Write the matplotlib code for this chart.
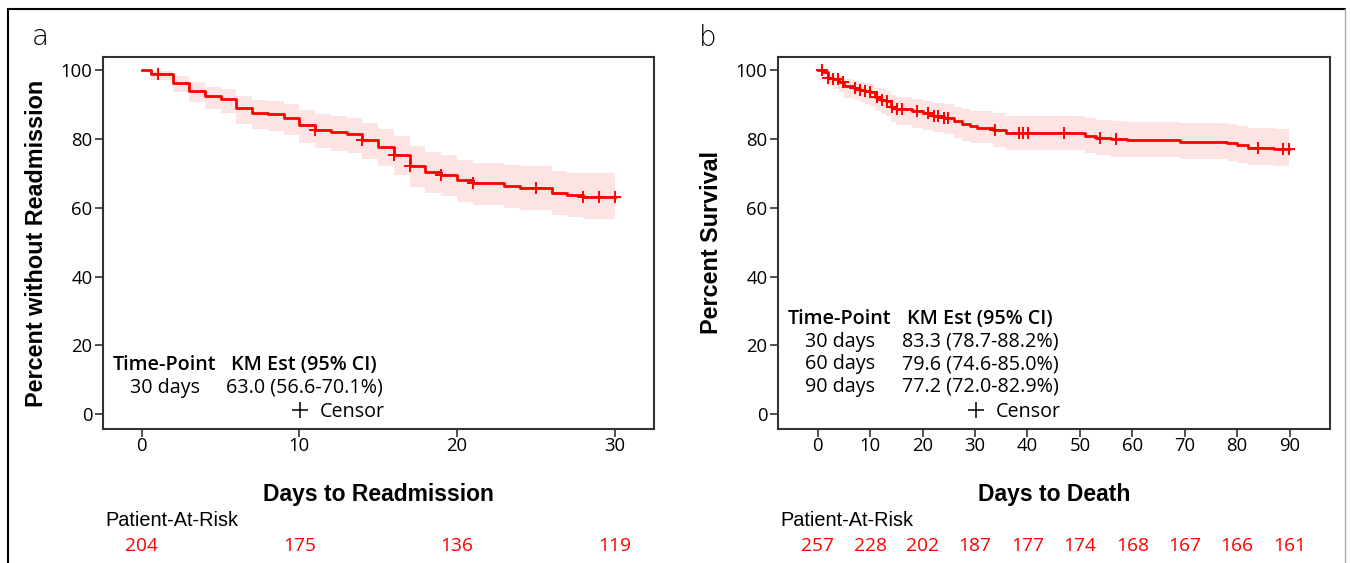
import numpy as np
import matplotlib
matplotlib.use('Agg')
import matplotlib.pyplot as plt
from matplotlib.lines import Line2D
import matplotlib.transforms as mtrans


####
# Data
#===
# panel a : readmission
times_a = [0, 0.6, 2, 3, 4, 5, 6, 7, 8, 9, 10, 11, 12, 13, 14, 15, 16, 17, 18, 19, 20, 21, 23, 24, 26, 27, 28]
surv_a = [100, 98.8, 96.3, 94.0, 92.4, 91.5, 88.9, 87.6, 87.1, 86.0, 84.0, 82.6, 82.0, 81.4, 79.7, 77.7, 75.3,
          72.1, 70.5, 69.5, 68.0, 67.1, 66.3, 65.8, 64.4, 63.7, 63.0]
low_a = [100, 97.0, 93.5, 90.6, 88.6, 87.5, 84.4, 82.9, 82.3, 81.1, 78.9, 77.3, 76.6, 75.9, 74.1, 72.0, 69.5,
         66.1, 64.4, 63.3, 61.8, 60.8, 60.0, 59.4, 57.9, 57.2, 56.6]
up_a = [100, 99.8, 98.3, 96.4, 95.2, 94.5, 92.4, 91.3, 90.9, 90.0, 88.4, 87.2, 86.7, 86.2, 84.6, 82.8, 80.7,
        77.8, 76.3, 75.3, 73.9, 73.1, 72.4, 72.0, 70.7, 70.0, 70.1]
censor_a = [1, 11, 14, 16, 17, 19, 21, 25, 28, 29, 30]
end_a = 30
ticks_a = [0, 10, 20, 30]
risk_a = [204, 175, 136, 119]
table_a = [("30 days", "63.0 (56.6-70.1%)")]

# panel b : death
times_b = [0, 1, 2, 3, 4, 5, 7, 8, 9, 10, 11, 12, 13, 14, 15, 18, 20, 22, 24, 26, 27.5, 29, 30.4, 33.5, 36,
           51, 53, 56, 59, 69, 78, 80, 82, 87]
surv_b = [100, 99.3, 97.8, 97.3, 96.6, 95.3, 94.8, 94.3, 93.9, 93.5, 92.1, 91.4, 90.9, 89.3, 88.6, 88.0, 87.4,
          86.7, 86.2, 85.2, 84.4, 83.8, 83.3, 82.6, 81.8, 80.9, 80.4, 79.9, 79.6, 79.2, 78.7, 78.1, 77.5, 77.2]
low_b = [100, 97.5, 95.3, 94.6, 93.6, 92.0, 91.3, 90.7, 90.2, 89.7, 88.0, 87.2, 86.6, 84.8, 84.0, 83.3, 82.6,
         81.9, 81.3, 80.2, 79.4, 78.8, 78.7, 77.6, 76.7, 75.8, 75.3, 74.8, 74.6, 74.1, 73.6, 73.0, 72.3, 72.0]
up_b = [100, 99.9, 99.0, 98.7, 98.2, 97.3, 96.9, 96.5, 96.3, 96.0, 94.9, 94.4, 94.0, 92.7, 92.1, 91.6, 91.1,
        90.5, 90.1, 89.2, 88.6, 88.1, 88.2, 87.5, 86.8, 86.0, 85.6, 85.2, 85.0, 84.7, 84.2, 83.7, 83.2, 82.9]
censor_b = [0.8, 2.0, 3.0, 3.9, 4.9, 7.1, 8.1, 9.0, 10.0, 11.3, 12.2, 13.2, 14.1, 15.1, 16.0, 18.9, 21.1,
            22.1, 23.0, 24.0, 24.9, 33.8, 38.3, 39.2, 40.2, 47.0, 53.9, 56.9, 84.0, 88.8, 89.8]
end_b = 89.8
ticks_b = [0, 10, 20, 30, 40, 50, 60, 70, 80, 90]
risk_b = [257, 228, 202, 187, 177, 174, 168, 167, 166, 161]
table_b = [("30 days", "83.3 (78.7-88.2%)"),
           ("60 days", "79.6 (74.6-85.0%)"),
           ("90 days", "77.2 (72.0-82.9%)")]


####
# Styles
#===
RED = '#FF0000'
BAND = '#FDE4E4'
tick_font = 'Open Sans'
lab_font = 'Liberation Sans'
TAB = 14.2


def km_panel(ax, times, surv, low, up, censor, end, ticks, risk, table, xlim, xlabel, ylabel, ystart):
    t = np.append(times, end)
    s = np.append(surv, surv[-1])
    lo = np.append(low, low[-1])
    hi = np.append(up, up[-1])
    ax.fill_between(t, lo, hi, step='post', color=BAND, lw=0, zorder=1)
    ax.plot(t, s, drawstyle='steps-post', color=RED, lw=2, zorder=3)
    idx = np.searchsorted(times, censor, side='right') - 1
    ax.plot(censor, np.array(surv)[idx], ls='none', marker='+', ms=9, mew=1.4, color=RED, zorder=4)

    ax.set_xlim(*xlim)
    ax.set_ylim(-4.3, 103.8)
    ax.set_xticks(ticks)
    ax.set_yticks([0, 20, 40, 60, 80, 100])
    ax.tick_params(length=5.5, width=1.2, color='#333333', labelsize=13.3, pad=2)
    ax.tick_params(axis='x', pad=0)
    for lab in ax.get_xticklabels() + ax.get_yticklabels():
        lab.set_family(tick_font)
    for sp in ax.spines.values():
        sp.set_color('#333333')
        sp.set_linewidth(1.5)

    ax.set_xlabel(xlabel, fontsize=16.5, fontweight='bold', family=lab_font)
    ax.xaxis.set_label_coords(0.5, -0.145)
    ax.set_ylabel(ylabel, fontsize=16.8, fontweight='bold', family=lab_font)
    ax.yaxis.set_label_coords(-0.1, 0.5)

    # at-risk table under the axis
    trans = mtrans.blended_transform_factory(ax.transData, ax.transAxes)
    ax.text(0.004, -0.247, 'Patient-At-Risk', transform=ax.transAxes, fontsize=14.3,
            family=lab_font, va='center', ha='left')
    for x, n in zip(ticks, risk):
        ax.text(x, -0.315, str(n), transform=trans, color=RED, fontsize=13.8,
                family=tick_font, ha='center', va='center', clip_on=False)

    # KM estimate table inside the axes
    ax.text(0.112, ystart, 'Time-Point', transform=ax.transAxes, fontsize=TAB, fontweight='semibold',
            family=tick_font, ha='center', va='center')
    ax.text(0.365, ystart, 'KM Est (95% CI)', transform=ax.transAxes, fontsize=TAB, fontweight='semibold',
            family=tick_font, ha='center', va='center')
    yy = ystart
    for tp, est in table:
        yy -= 0.061
        ax.text(0.112, yy, tp, transform=ax.transAxes, fontsize=TAB, family=tick_font, ha='center', va='center')
        ax.text(0.366, yy, est, transform=ax.transAxes, fontsize=TAB, family=tick_font, ha='center', va='center')

    h = Line2D([], [], color='black', marker='+', ls='none', ms=12, mew=1.1)
    ax.legend([h], ['Censor'], loc='center right', bbox_to_anchor=(0.512, 0.047), frameon=False,
              handlelength=1.0, handletextpad=0.5, borderpad=0, borderaxespad=0,
              prop={'family': tick_font, 'size': TAB})


####
# Figure
#===
fig = plt.figure(figsize=(13.5, 5.63), dpi=100)
W, H = 1350.0, 563.0

ax1 = fig.add_axes([103 / W, 1 - 429 / H, 551 / W, 372 / H])
ax2 = fig.add_axes([778 / W, 1 - 429 / H, 552 / W, 372 / H])

km_panel(ax1, times_a, surv_a, low_a, up_a, censor_a, end_a, ticks_a, risk_a, table_a,
         (-2.46, 32.5), 'Days to Readmission', 'Percent without Readmission', 0.172)
km_panel(ax2, times_b, surv_b, low_b, up_b, censor_b, end_b, ticks_b, risk_b, table_b,
         (-7.57, 97.7), 'Days to Death', 'Percent Survival', 0.296)

# panel letters
fig.text(40 / W, 1 - 37 / H, 'a', fontsize=20, family='DejaVu Sans', fontweight='light',
         ha='center', va='center')
fig.text(708 / W, 1 - 38 / H, 'b', fontsize=20, family='DejaVu Sans', fontweight='light',
         ha='center', va='center')

# outer frame
fig.add_artist(Line2D([8 / W, 1345 / W], [1 - 9 / H, 1 - 9 / H], color='black', lw=1.5))
fig.add_artist(Line2D([8 / W, 8 / W], [0, 1 - 9 / H], color='black', lw=1.5))
fig.add_artist(Line2D([1345 / W, 1345 / W], [0, 1 - 9 / H], color='#AAAAAA', lw=1))

fig.savefig('out.png', dpi=100)
